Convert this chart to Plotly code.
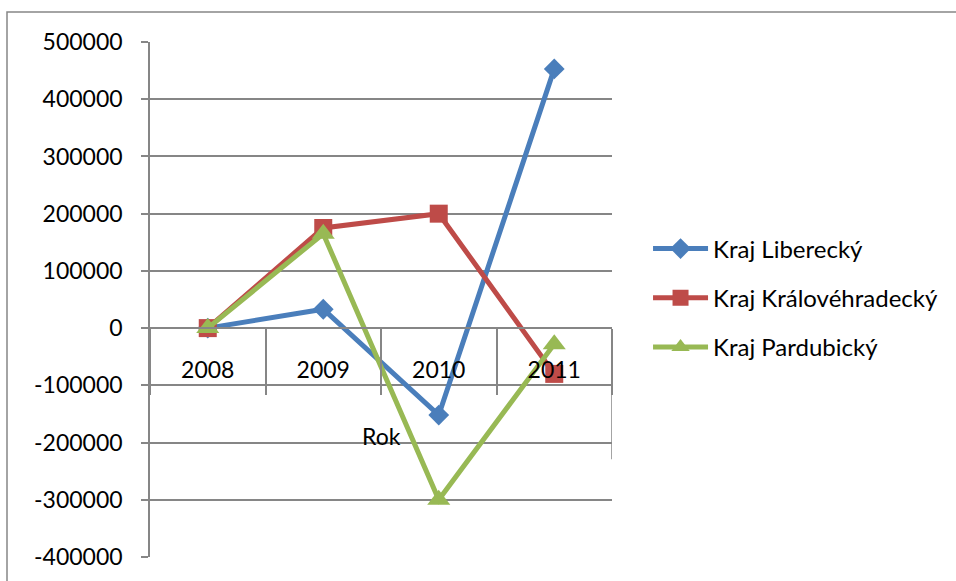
import plotly.graph_objects as go

years = ["2008", "2009", "2010", "2011"]
liberecky = [0, 33000, -152000, 453000]
kralovehradecky = [0, 175000, 200000, -80000]
pardubicky = [0, 165000, -300000, -28000]
series_names = ["Kraj Liberecký", "Kraj Královéhradecký", "Kraj Pardubický"]
y_ticks = [-400000, -300000, -200000, -100000, 0, 100000, 200000, 300000, 400000, 500000]
y_tick_labels = ["-400000", "-300000", "-200000", "-100000", "0", "100000", "200000", "300000", "400000", "500000"]
axis_title = "Rok"

FONT = "Lato, 'Open Sans', sans-serif"
GRID = "#868686"
colors = ["#4A7EBB", "#BE4B48", "#98B954"]
symbols = ["diamond", "square", "triangle-up"]
sizes = [16, 18, 20]

fig = go.Figure()
for i, (name, vals) in enumerate(zip(series_names, [liberecky, kralovehradecky, pardubicky])):
    fig.add_trace(go.Scatter(
        x=years, y=vals, name=name, mode="lines+markers",
        legendgroup=f"g{i}",
        line=dict(color=colors[i], width=5),
        marker=dict(symbol=symbols[i], size=sizes[i], color=colors[i]),
    ))

fig.update_layout(
    width=956, height=581,
    margin=dict(l=150, r=344, t=42, b=24),
    paper_bgcolor="white", plot_bgcolor="white",
    font=dict(family=FONT, size=23, color="black"),
    showlegend=True,
    legend=dict(x=1.078, xanchor="left", y=0.503, yanchor="middle",
                itemwidth=55, tracegroupgap=15, bgcolor="rgba(0,0,0,0)",
                font=dict(family=FONT, size=24, color="black")),
    xaxis=dict(
        type="category", range=[-0.5, 3.5],
        anchor="free", position=(0 - (-400000)) / 900000,
        showgrid=False, zeroline=False,
        showline=True, linecolor=GRID, linewidth=1.5,
        tickson="boundaries", ticks="outside", ticklen=66, tickwidth=1.5, tickcolor=GRID,
        ticklabelstandoff=22,
        tickfont=dict(family=FONT, size=23, color="black"),
    ),
    yaxis=dict(
        range=[-400000, 500000], tickvals=y_ticks, ticktext=y_tick_labels,
        showgrid=True, gridcolor=GRID, gridwidth=1.5, zeroline=False,
        showline=True, linecolor=GRID, linewidth=1.5,
        ticks="outside", ticklen=7, tickwidth=1.5, tickcolor=GRID,
        ticklabelstandoff=14,
        tickfont=dict(family=FONT, size=23, color="black"),
    ),
    annotations=[dict(x=1.5, xref="x", y=-188000, yref="y", text=axis_title,
                      showarrow=False, font=dict(family=FONT, size=23, color="black"),
                      xanchor="center", yanchor="middle")],
    shapes=[
        dict(type="line", xref="x", yref="y", x0=3.5, x1=3.5, y0=0, y1=-229000,
             line=dict(color=GRID, width=1.5)),
        dict(type="rect", xref="paper", yref="paper",
             x0=(7 - 150) / 462, x1=3, y0=-1, y1=(557 - 12) / 515,
             line=dict(color=GRID, width=1.5), layer="above"),
    ],
)

fig.write_html("out.html", config={"displayModeBar": False},
               post_script="document.body.style.margin='0';")
